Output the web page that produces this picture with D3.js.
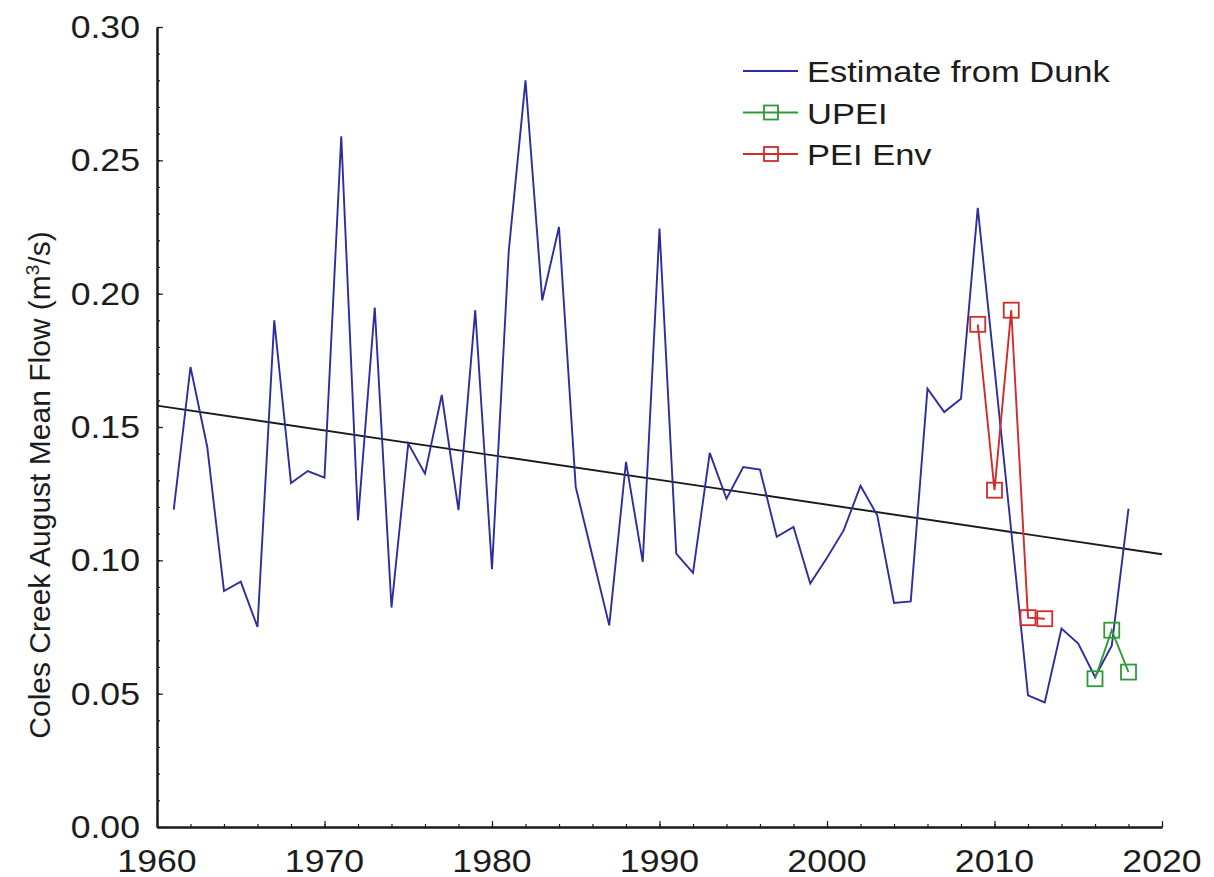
<!DOCTYPE html>
<html>
<head>
<meta charset="utf-8">
<script src="https://cdn.jsdelivr.net/npm/d3@7"></script>
<style>
  html, body { margin: 0; padding: 0; background: #ffffff; }
  svg { display: block; }
  text { font-family: "Liberation Sans", Arial, Helvetica, sans-serif; fill: #1c1c1c; }
</style>
</head>
<body>
<svg id="chart" width="1214" height="877"></svg>
<script>
// Coles Creek August mean flow, m^3/s
const dunkYears = [1961,1962,1963,1964,1965,1966,1967,1968,1969,1970,
  1971,1972,1973,1974,1975,1976,1977,1978,1979,1980,
  1981,1982,1983,1984,1985,1986,1987,1988,1989,1990,
  1991,1992,1993,1994,1995,1996,1997,1998,1999,2000,
  2001,2002,2003,2004,2005,2006,2007,2008,2009,2010,
  2011,2012,2013,2014,2015,2016,2017,2018];
const dunkFlow = [0.119,0.1725,0.1425,0.0885,0.092,0.075,0.190,0.129,0.1335,0.131,
  0.259,0.115,0.1948,0.0823,0.1438,0.1325,0.162,0.1188,0.1938,0.0967,
  0.216,0.280,0.1975,0.225,0.1275,0.1015,0.0756,0.1369,0.0994,0.2244,
  0.1025,0.0953,0.1403,0.1231,0.135,0.134,0.1088,0.1125,0.0913,0.101,
  0.1113,0.128,0.1169,0.084,0.0846,0.1644,0.1556,0.1606,0.2322,0.172,
  0.111,0.0494,0.0467,0.0744,0.0688,0.0563,0.068,0.1194];

const upeiYears = [2016, 2017, 2018];
const upeiFlow = [0.0556, 0.0738, 0.0581];

const envYears = [2009, 2010, 2011, 2012, 2013];
const envFlow = [0.1885, 0.1263, 0.1938, 0.0785, 0.0781];

// linear trend of the Dunk estimate
const trendYears = [1960, 2020];
const trendFlow = [0.158, 0.1023];

const xTicks = [1960, 1970, 1980, 1990, 2000, 2010, 2020];
const yTicks = [0.00, 0.05, 0.10, 0.15, 0.20, 0.25, 0.30];
const legendLabels = ["Estimate from Dunk", "UPEI", "PEI Env"];

const colors = { dunk: "#2d2d9f", upei: "#2e9a35", env: "#d42a2a", trend: "#1a1a1a" };

const svg = d3.select("#chart");
const x = d3.scaleLinear().domain([1960, 2020]).range([157, 1162]);
const y = d3.scaleLinear().domain([0, 0.30]).range([827, 27]);
const stretch = 1.15;

// axes: major ticks and minor ticks, pointing inward
const axisG = svg.append("g");
const xMinor = d3.range(1960, 2021, 2);
const yMinor = d3.range(0, 31, 1).map(d => d / 100);

axisG.append("g").attr("transform", `translate(0,${y(0)})`)
  .call(d3.axisBottom(x).tickValues(xMinor).tickSizeInner(-3).tickSizeOuter(0).tickFormat(""));
axisG.append("g").attr("transform", `translate(0,${y(0)})`)
  .call(d3.axisBottom(x).tickValues(xTicks).tickSizeInner(-6).tickSizeOuter(0).tickFormat(""));
axisG.append("g").attr("transform", `translate(${x(1960)},0)`)
  .call(d3.axisLeft(y).tickValues(yMinor).tickSizeInner(-3).tickSizeOuter(0).tickFormat(""));
axisG.append("g").attr("transform", `translate(${x(1960)},0)`)
  .call(d3.axisLeft(y).tickValues(yTicks).tickSizeInner(-6).tickSizeOuter(0).tickFormat(""));
axisG.selectAll("path.domain").attr("stroke", "#1a1a1a").attr("stroke-width", 2);
axisG.selectAll(".tick line").attr("stroke", "#1a1a1a").attr("stroke-width", 1.2);

// tick labels
svg.append("g").selectAll("text").data(xTicks).join("text")
  .attr("transform", d => `translate(${x(d)},872) scale(${stretch},1)`)
  .attr("text-anchor", "middle")
  .attr("font-size", 31)
  .text(d => d);

svg.append("g").selectAll("text").data(yTicks).join("text")
  .attr("transform", d => `translate(140,${y(d) + 11}) scale(${stretch},1)`)
  .attr("text-anchor", "end")
  .attr("font-size", 31)
  .text(d => d.toFixed(2));

// y-axis title
const yTitle = svg.append("text")
  .attr("transform", "translate(50,485) rotate(-90)")
  .attr("text-anchor", "middle")
  .attr("font-size", 30);
yTitle.append("tspan").text("Coles Creek August Mean Flow (m");
yTitle.append("tspan").attr("font-size", 19).attr("dy", -11).text("3");
yTitle.append("tspan").attr("dy", 11).text("/s)");

const line = d3.line().x(d => x(d[0])).y(d => y(d[1]));

// trend line
svg.append("path")
  .datum(trendYears.map((yr, i) => [yr, trendFlow[i]]))
  .attr("d", line).attr("fill", "none")
  .attr("stroke", colors.trend).attr("stroke-width", 1.9);

// Dunk estimate series
svg.append("path")
  .datum(dunkYears.map((yr, i) => [yr, dunkFlow[i]]))
  .attr("d", line).attr("fill", "none")
  .attr("stroke", colors.dunk).attr("stroke-width", 1.9)
  .attr("stroke-linejoin", "miter");

function drawMeasured(years, values, color) {
  const pts = years.map((yr, i) => [yr, values[i]]);
  const g = svg.append("g");
  g.append("path").datum(pts).attr("d", line).attr("fill", "none")
    .attr("stroke", color).attr("stroke-width", 1.9);
  g.selectAll("rect").data(pts).join("rect")
    .attr("x", d => x(d[0]) - 7.5).attr("y", d => y(d[1]) - 7.5)
    .attr("width", 15).attr("height", 15)
    .attr("fill", "none").attr("stroke", color).attr("stroke-width", 1.8);
}
drawMeasured(envYears, envFlow, colors.env);
drawMeasured(upeiYears, upeiFlow, colors.upei);

// legend
const legend = svg.append("g");
const legendRows = [
  { label: legendLabels[0], color: colors.dunk, marker: false },
  { label: legendLabels[1], color: colors.upei, marker: true },
  { label: legendLabels[2], color: colors.env, marker: true }
];
legendRows.forEach((r, i) => {
  const cy = 71 + i * 41.5;
  legend.append("line").attr("x1", 743).attr("x2", 798).attr("y1", cy).attr("y2", cy)
    .attr("stroke", r.color).attr("stroke-width", 1.9);
  if (r.marker) {
    legend.append("rect").attr("x", 771 - 7).attr("y", cy - 7).attr("width", 14).attr("height", 14)
      .attr("fill", "none").attr("stroke", r.color).attr("stroke-width", 1.8);
  }
  legend.append("text")
    .attr("transform", `translate(807,${cy + 11}) scale(${stretch},1)`)
    .attr("font-size", 30)
    .text(r.label);
});
</script>
</body>
</html>
